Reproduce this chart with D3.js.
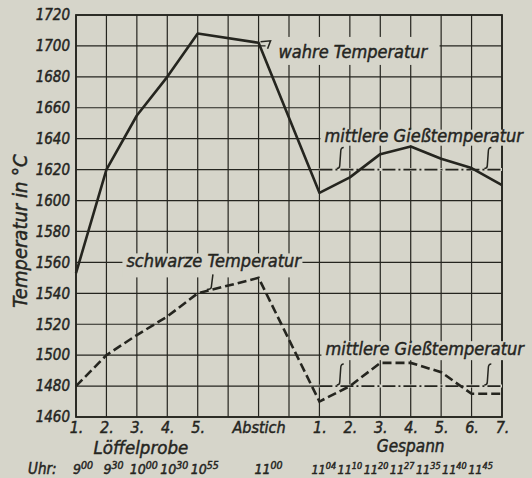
<!DOCTYPE html>
<html>
<head>
<meta charset="utf-8">
<script src="https://cdn.jsdelivr.net/npm/d3@7"></script>
<style>
    body { margin: 0; background: #d6d5ca; }
    svg { display: block; }
    text { font-family: "DejaVu Sans Condensed", "DejaVu Sans", sans-serif; font-style: italic; fill: #25251f; stroke: #25251f; stroke-width: 0.45; }
</style>
</head>
<body>
<div id="chart"></div>
<script>
// Daten (Spalten 0-14: Löffelprobe 1-5, Abstich, Gespann 1-7)
const xLabels = ["1.", "2.", "3.", "4.", "5.", "", "Abstich", "", "1.", "2.", "3.", "4.", "5.", "6.", "7."];
const wahreTemp = [1553, 1620, 1655, 1680, 1708, null, 1702, null, 1605, 1615, 1630, 1635, 1627, 1621, 1610];
const schwarzeTemp = [1480, 1500, 1513, 1525, 1540, null, 1550, null, 1470, 1480, 1495, 1495, 1489, 1475, 1475];
const mittlereTemp = [1620, 1480];
const mittlereBereich = [8, 14];
const yTicks = [1460, 1480, 1500, 1520, 1540, 1560, 1580, 1600, 1620, 1640, 1660, 1680, 1700, 1720];
const uhrLoeffel = [["9", "00"], ["9", "30"], ["10", "00"], ["10", "30"], ["10", "55"]];
const uhrAbstich = [["11", "00"]];
const uhrGespann = [["11", "04"], ["11", "10"], ["11", "20"], ["11", "27"], ["11", "35"], ["11", "40"], ["11", "45"]];

const ink = "#25251f";
const paper = "#d6d5ca";

// Konfiguration
const margin = {top: 15, right: 30, bottom: 61, left: 76};
const width = 532 - margin.left - margin.right;
const height = 478 - margin.top - margin.bottom;

const root = d3.select("#chart")
    .append("svg")
    .attr("width", 532)
    .attr("height", 478);

root.append("rect").attr("width", 532).attr("height", 478).attr("fill", paper);

const svg = root.append("g")
    .attr("transform", `translate(${margin.left},${margin.top})`);

const x = d3.scaleLinear().domain([0, 14]).range([0, width]);
const y = d3.scaleLinear().domain([1460, 1720]).range([height, 0]);

// Gitter
svg.append("g")
    .selectAll("line")
    .data(d3.range(15))
    .join("line")
    .attr("x1", d => x(d)).attr("x2", d => x(d))
    .attr("y1", 0).attr("y2", height)
    .attr("stroke", ink).attr("stroke-width", 1.2);

svg.append("g")
    .selectAll("line")
    .data(yTicks)
    .join("line")
    .attr("x1", 0).attr("x2", width)
    .attr("y1", d => y(d)).attr("y2", d => y(d))
    .attr("stroke", ink).attr("stroke-width", 1.2);

svg.append("rect")
    .attr("width", width).attr("height", height)
    .attr("fill", "none").attr("stroke", ink).attr("stroke-width", 1.8);

// Y-Achse
svg.append("g")
    .call(d3.axisLeft(y).tickValues(yTicks).tickSize(0).tickPadding(6).tickFormat(d3.format("d")))
    .call(g => g.select(".domain").remove())
    .selectAll("text")
    .attr("font-size", 15).attr("font-family", null).attr("fill", ink);

// X-Achse
svg.append("g")
    .attr("transform", `translate(0,${height})`)
    .call(d3.axisBottom(x).tickValues(d3.range(15)).tickSize(0).tickPadding(5).tickFormat(i => xLabels[i]))
    .call(g => g.select(".domain").remove())
    .selectAll("text")
    .attr("font-size", 16).attr("font-family", null).attr("fill", ink);

svg.append("text").attr("x", x(2) + 4).attr("y", height + 37).attr("text-anchor", "middle")
    .attr("font-size", 18.5).text("Löffelprobe");
svg.append("text").attr("x", x(11)).attr("y", height + 35).attr("text-anchor", "middle")
    .attr("font-size", 17).text("Gespann");

// Uhrzeiten
root.append("text").attr("x", 28).attr("y", 474).attr("font-size", 15).text("Uhr:");

// Löffelprobe und Abstich: einzeln unter der Spalte
uhrLoeffel.concat(uhrAbstich).forEach((d, i) => {
    const spalte = i < uhrLoeffel.length ? i : 6;
    const t = root.append("text")
        .attr("x", margin.left + x(spalte) + (spalte === 6 ? 10 : 7)).attr("y", 474)
        .attr("text-anchor", "middle");
    t.append("tspan").attr("font-size", 14).text(d[0]);
    t.append("tspan").attr("font-size", 10.5).attr("dy", -5).text(d[1]);
});

// Gespann: eng aneinander geschrieben
const tg = root.append("text").attr("x", margin.left + x(8) - 8).attr("y", 474);
uhrGespann.forEach((d, i) => {
    tg.append("tspan").attr("font-size", 12.5).attr("dx", i ? 1.5 : 0).attr("dy", i ? 5 : 0).text(d[0]);
    tg.append("tspan").attr("font-size", 9).attr("dy", -5).text(d[1]);
});

// Y-Beschriftung
root.append("text")
    .attr("transform", "translate(27,231) rotate(-90)")
    .attr("text-anchor", "middle")
    .attr("font-size", 20)
    .text("Temperatur in °C");

// Beschriftungen im Diagramm (mit Papierhintergrund, der das Gitter unterbricht)
function label(txt, lx, ly, box) {
    svg.append("rect")
        .attr("x", box[0]).attr("y", box[1]).attr("width", box[2]).attr("height", box[3])
        .attr("fill", paper);
    svg.append("text").attr("x", lx).attr("y", ly).attr("font-size", 18).text(txt);
}
label("wahre Temperatur", x(6) + 20, y(1700) + 12, [x(6) + 7, y(1700) - 9, 174, 28]);
label("mittlere Gießtemperatur", x(8) + 5, y(1640) + 3, [x(8) + 1, y(1640) - 9, 206, 16]);
label("mittlere Gießtemperatur", x(8) + 6, y(1500) + 0, [x(8) + 2, y(1500) - 14, 206, 19]);
label("schwarze Temperatur", x(1) + 20, y(1560) + 5, [x(1) + 16, y(1560) - 9, 180, 24]);

// Mittlere Gießtemperatur (strichpunktiert)
mittlereTemp.forEach(m => {
    svg.append("line")
        .attr("x1", x(mittlereBereich[0])).attr("x2", x(mittlereBereich[1]))
        .attr("y1", y(m)).attr("y2", y(m))
        .attr("stroke", paper).attr("stroke-width", 3);
    svg.append("line")
        .attr("x1", x(mittlereBereich[0])).attr("x2", x(mittlereBereich[1]))
        .attr("y1", y(m)).attr("y2", y(m))
        .attr("stroke", ink).attr("stroke-width", 1.8)
        .attr("stroke-dasharray", "13,3,2,3");
    [8.7, 13.55].forEach(b => {
        const bx = x(b), y2 = y(m) - 1, y1 = y(m) - 22;
        svg.append("path")
            .attr("d", `M${bx + 3},${y1} Q${bx},${y1} ${bx},${y1 + 4} L${bx - 1},${y2 - 3} Q${bx - 1},${y2} ${bx - 4},${y2}`)
            .attr("fill", "none").attr("stroke", ink).attr("stroke-width", 1.5);
    });
});

// Kurven (Lücken in Spalte 5 und 7 werden überbrückt)
const wahrePunkte = wahreTemp.map((d, i) => [i, d]).filter(d => d[1] != null);
const schwarzePunkte = schwarzeTemp.map((d, i) => [i, d]).filter(d => d[1] != null);
const linePts = d3.line().x(d => x(d[0])).y(d => y(d[1]));

svg.append("path")
    .attr("d", linePts(wahrePunkte))
    .attr("fill", "none").attr("stroke", ink).attr("stroke-width", 2.6)
    .attr("stroke-linejoin", "round");

svg.append("path")
    .attr("d", linePts(schwarzePunkte))
    .attr("fill", "none").attr("stroke", ink).attr("stroke-width", 2.6)
    .attr("stroke-dasharray", "9,4");

// Hinweisstriche
svg.append("path")
    .attr("d", `M${x(6) + 2},${y(1702) - 1} L${x(6) + 12},${y(1702) - 2} L${x(6) + 9},${y(1702) + 6}`)
    .attr("fill", "none").attr("stroke", ink).attr("stroke-width", 1.5);
svg.append("path")
    .attr("d", `M${x(4.5)},${y(1560) + 12} L${x(4.45)},${y(1560) + 24} Q${x(4.45)},${y(1560) + 27} ${x(4.3)},${y(1560) + 27}`)
    .attr("fill", "none").attr("stroke", ink).attr("stroke-width", 1.5);
</script>
</body>
</html>
